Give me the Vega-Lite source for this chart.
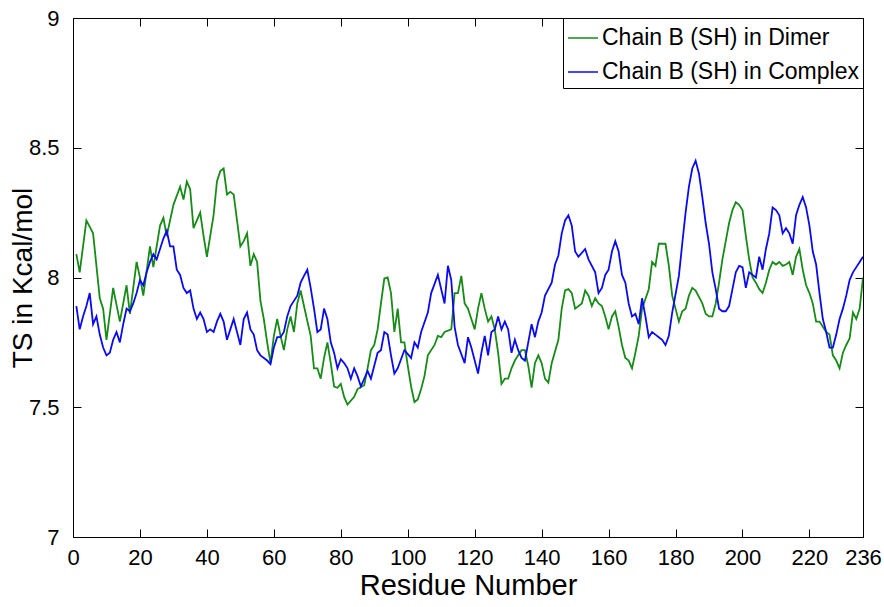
{
  "$schema": "https://vega.github.io/schema/vega-lite/v6.json",
  "width": 790,
  "height": 519,
  "autosize": "none",
  "padding": {"left": 73, "top": 18, "right": 21, "bottom": 70},
  "background": "white",
  "config": {
    "view": {"stroke": null},
    "font": "Liberation Sans",
    "axis": {"grid": false, "domainColor": "black", "tickColor": "black", "labelColor": "black", "titleColor": "black", "labelFont": "Liberation Sans", "titleFont": "Liberation Sans", "titleFontWeight": "normal"}
  },
  "datasets": {
    "dimer": [
      {"r":1,"v":8.09},{"r":2,"v":8.02},{"r":4,"v":8.22},{"r":6,"v":8.17},{"r":7,"v":8.045},{"r":8,"v":7.92},{"r":9,"v":7.88},{"r":10,"v":7.76},{"r":12,"v":7.96},{"r":14,"v":7.83},{"r":16,"v":7.97},{"r":17,"v":7.86},{"r":19,"v":8.06},{"r":20,"v":8.0},{"r":21,"v":7.93},{"r":23,"v":8.12},{"r":24,"v":8.04},{"r":26,"v":8.2},{"r":27,"v":8.23},{"r":28,"v":8.16},{"r":30,"v":8.28},{"r":32,"v":8.35},{"r":33,"v":8.3},{"r":34,"v":8.37},{"r":35,"v":8.34},{"r":36,"v":8.19},{"r":38,"v":8.25},{"r":39,"v":8.16},{"r":40,"v":8.08},{"r":41,"v":8.16},{"r":42,"v":8.24},{"r":43,"v":8.37},{"r":44,"v":8.41},{"r":45,"v":8.42},{"r":46,"v":8.32},{"r":47,"v":8.33},{"r":48,"v":8.32},{"r":50,"v":8.12},{"r":51,"v":8.14},{"r":52,"v":8.17},{"r":53,"v":8.045},{"r":54,"v":8.09},{"r":55,"v":8.06},{"r":56,"v":7.91},{"r":57,"v":7.84},{"r":58,"v":7.75},{"r":59,"v":7.67},{"r":60,"v":7.775},{"r":61,"v":7.84},{"r":62,"v":7.775},{"r":63,"v":7.72},{"r":64,"v":7.8},{"r":65,"v":7.85},{"r":66,"v":7.79},{"r":67,"v":7.9},{"r":68,"v":7.95},{"r":69,"v":7.89},{"r":71,"v":7.775},{"r":72,"v":7.65},{"r":73,"v":7.65},{"r":74,"v":7.61},{"r":75,"v":7.69},{"r":76,"v":7.75},{"r":77,"v":7.67},{"r":78,"v":7.58},{"r":79,"v":7.575},{"r":80,"v":7.59},{"r":81,"v":7.54},{"r":82,"v":7.51},{"r":84,"v":7.54},{"r":85,"v":7.57},{"r":87,"v":7.585},{"r":88,"v":7.65},{"r":89,"v":7.72},{"r":90,"v":7.74},{"r":91,"v":7.8},{"r":92,"v":7.9},{"r":93,"v":7.996},{"r":94,"v":8.0},{"r":95,"v":7.94},{"r":96,"v":7.79},{"r":97,"v":7.88},{"r":98,"v":7.75},{"r":99,"v":7.75},{"r":100,"v":7.66},{"r":101,"v":7.58},{"r":102,"v":7.52},{"r":103,"v":7.53},{"r":104,"v":7.57},{"r":105,"v":7.62},{"r":106,"v":7.7},{"r":108,"v":7.74},{"r":109,"v":7.775},{"r":110,"v":7.77},{"r":111,"v":7.79},{"r":113,"v":7.8},{"r":114,"v":7.94},{"r":115,"v":7.94},{"r":116,"v":8.006},{"r":117,"v":7.9},{"r":118,"v":7.88},{"r":119,"v":7.84},{"r":120,"v":7.8},{"r":121,"v":7.88},{"r":122,"v":7.94},{"r":123,"v":7.88},{"r":124,"v":7.83},{"r":125,"v":7.85},{"r":126,"v":7.8},{"r":127,"v":7.71},{"r":128,"v":7.59},{"r":129,"v":7.61},{"r":130,"v":7.61},{"r":131,"v":7.65},{"r":132,"v":7.68},{"r":133,"v":7.7},{"r":134,"v":7.72},{"r":135,"v":7.72},{"r":136,"v":7.66},{"r":137,"v":7.576},{"r":138,"v":7.67},{"r":139,"v":7.7},{"r":140,"v":7.67},{"r":141,"v":7.61},{"r":142,"v":7.595},{"r":143,"v":7.67},{"r":145,"v":7.76},{"r":146,"v":7.88},{"r":147,"v":7.95},{"r":148,"v":7.955},{"r":149,"v":7.94},{"r":150,"v":7.88},{"r":152,"v":7.9},{"r":153,"v":7.95},{"r":154,"v":7.93},{"r":155,"v":7.89},{"r":156,"v":7.92},{"r":157,"v":7.9},{"r":158,"v":7.89},{"r":159,"v":7.85},{"r":160,"v":7.8},{"r":161,"v":7.85},{"r":162,"v":7.87},{"r":163,"v":7.81},{"r":164,"v":7.74},{"r":165,"v":7.69},{"r":166,"v":7.68},{"r":167,"v":7.65},{"r":168,"v":7.71},{"r":169,"v":7.775},{"r":170,"v":7.88},{"r":172,"v":7.955},{"r":173,"v":8.06},{"r":174,"v":8.045},{"r":175,"v":8.13},{"r":176,"v":8.13},{"r":177,"v":8.13},{"r":178,"v":8.045},{"r":179,"v":7.93},{"r":180,"v":7.88},{"r":181,"v":7.83},{"r":182,"v":7.87},{"r":183,"v":7.88},{"r":184,"v":7.93},{"r":185,"v":7.96},{"r":186,"v":7.95},{"r":188,"v":7.9},{"r":189,"v":7.86},{"r":190,"v":7.85},{"r":191,"v":7.85},{"r":192,"v":7.9},{"r":193,"v":7.98},{"r":194,"v":8.07},{"r":195,"v":8.14},{"r":196,"v":8.21},{"r":197,"v":8.26},{"r":198,"v":8.29},{"r":199,"v":8.28},{"r":200,"v":8.26},{"r":201,"v":8.16},{"r":202,"v":8.07},{"r":203,"v":8.0},{"r":204,"v":7.98},{"r":205,"v":7.955},{"r":206,"v":7.94},{"r":207,"v":7.98},{"r":208,"v":8.03},{"r":209,"v":8.06},{"r":210,"v":8.05},{"r":211,"v":8.06},{"r":212,"v":8.045},{"r":213,"v":8.05},{"r":214,"v":8.06},{"r":215,"v":8.01},{"r":216,"v":8.08},{"r":217,"v":8.11},{"r":218,"v":8.03},{"r":219,"v":7.97},{"r":220,"v":7.94},{"r":221,"v":7.9},{"r":222,"v":7.83},{"r":223,"v":7.83},{"r":224,"v":7.81},{"r":225,"v":7.79},{"r":226,"v":7.78},{"r":227,"v":7.7},{"r":228,"v":7.68},{"r":229,"v":7.65},{"r":230,"v":7.71},{"r":231,"v":7.74},{"r":232,"v":7.765},{"r":233,"v":7.865},{"r":234,"v":7.84},{"r":235,"v":7.88},{"r":236,"v":8.0}
    ],
    "complex": [
      {"r":1,"v":7.89},{"r":2,"v":7.8},{"r":3,"v":7.85},{"r":4,"v":7.89},{"r":5,"v":7.94},{"r":6,"v":7.82},{"r":7,"v":7.85},{"r":8,"v":7.78},{"r":9,"v":7.73},{"r":10,"v":7.7},{"r":11,"v":7.71},{"r":12,"v":7.76},{"r":13,"v":7.79},{"r":14,"v":7.75},{"r":15,"v":7.82},{"r":16,"v":7.88},{"r":17,"v":7.87},{"r":18,"v":7.9},{"r":19,"v":7.94},{"r":20,"v":7.99},{"r":21,"v":7.97},{"r":22,"v":8.02},{"r":23,"v":8.06},{"r":24,"v":8.09},{"r":25,"v":8.07},{"r":26,"v":8.11},{"r":27,"v":8.15},{"r":28,"v":8.18},{"r":29,"v":8.12},{"r":30,"v":8.12},{"r":31,"v":8.03},{"r":32,"v":8.01},{"r":33,"v":7.96},{"r":34,"v":7.94},{"r":35,"v":7.95},{"r":36,"v":7.88},{"r":37,"v":7.84},{"r":38,"v":7.865},{"r":39,"v":7.84},{"r":40,"v":7.79},{"r":41,"v":7.8},{"r":42,"v":7.79},{"r":43,"v":7.83},{"r":44,"v":7.86},{"r":45,"v":7.83},{"r":46,"v":7.76},{"r":47,"v":7.8},{"r":48,"v":7.84},{"r":49,"v":7.79},{"r":50,"v":7.74},{"r":51,"v":7.84},{"r":52,"v":7.865},{"r":53,"v":7.8},{"r":54,"v":7.78},{"r":55,"v":7.72},{"r":56,"v":7.7},{"r":58,"v":7.68},{"r":59,"v":7.666},{"r":60,"v":7.73},{"r":61,"v":7.77},{"r":62,"v":7.77},{"r":63,"v":7.79},{"r":64,"v":7.85},{"r":65,"v":7.89},{"r":67,"v":7.93},{"r":68,"v":7.98},{"r":69,"v":8.006},{"r":70,"v":8.03},{"r":71,"v":7.96},{"r":72,"v":7.88},{"r":73,"v":7.79},{"r":74,"v":7.8},{"r":75,"v":7.88},{"r":76,"v":7.84},{"r":77,"v":7.75},{"r":78,"v":7.71},{"r":79,"v":7.65},{"r":80,"v":7.685},{"r":81,"v":7.67},{"r":82,"v":7.65},{"r":83,"v":7.61},{"r":84,"v":7.65},{"r":85,"v":7.62},{"r":86,"v":7.58},{"r":88,"v":7.64},{"r":89,"v":7.61},{"r":90,"v":7.66},{"r":91,"v":7.71},{"r":92,"v":7.72},{"r":93,"v":7.79},{"r":94,"v":7.78},{"r":95,"v":7.7},{"r":96,"v":7.63},{"r":97,"v":7.65},{"r":98,"v":7.685},{"r":99,"v":7.72},{"r":101,"v":7.69},{"r":102,"v":7.75},{"r":103,"v":7.73},{"r":104,"v":7.79},{"r":106,"v":7.865},{"r":107,"v":7.94},{"r":109,"v":8.01},{"r":110,"v":7.955},{"r":111,"v":7.9},{"r":112,"v":8.045},{"r":113,"v":7.99},{"r":114,"v":7.81},{"r":115,"v":7.74},{"r":117,"v":7.67},{"r":118,"v":7.77},{"r":119,"v":7.73},{"r":121,"v":7.63},{"r":122,"v":7.71},{"r":123,"v":7.775},{"r":124,"v":7.7},{"r":125,"v":7.79},{"r":126,"v":7.8},{"r":127,"v":7.85},{"r":128,"v":7.8},{"r":129,"v":7.83},{"r":130,"v":7.8},{"r":131,"v":7.71},{"r":132,"v":7.76},{"r":133,"v":7.72},{"r":134,"v":7.69},{"r":135,"v":7.68},{"r":137,"v":7.82},{"r":138,"v":7.77},{"r":139,"v":7.83},{"r":140,"v":7.865},{"r":141,"v":7.93},{"r":143,"v":7.98},{"r":144,"v":8.05},{"r":145,"v":8.085},{"r":146,"v":8.17},{"r":147,"v":8.22},{"r":148,"v":8.24},{"r":149,"v":8.2},{"r":150,"v":8.1},{"r":151,"v":8.08},{"r":153,"v":8.11},{"r":154,"v":8.07},{"r":156,"v":8.02},{"r":157,"v":7.94},{"r":158,"v":7.96},{"r":159,"v":8.01},{"r":160,"v":8.03},{"r":161,"v":8.1},{"r":162,"v":8.14},{"r":163,"v":8.1},{"r":164,"v":8.01},{"r":165,"v":7.98},{"r":166,"v":7.9},{"r":167,"v":7.85},{"r":168,"v":7.86},{"r":169,"v":7.82},{"r":170,"v":7.92},{"r":171,"v":7.85},{"r":172,"v":7.77},{"r":173,"v":7.79},{"r":174,"v":7.78},{"r":175,"v":7.77},{"r":176,"v":7.76},{"r":177,"v":7.74},{"r":178,"v":7.775},{"r":179,"v":7.865},{"r":181,"v":8.006},{"r":182,"v":8.13},{"r":183,"v":8.25},{"r":184,"v":8.35},{"r":185,"v":8.42},{"r":186,"v":8.45},{"r":187,"v":8.4},{"r":188,"v":8.31},{"r":189,"v":8.21},{"r":190,"v":8.13},{"r":191,"v":8.02},{"r":192,"v":7.955},{"r":193,"v":7.88},{"r":194,"v":7.87},{"r":195,"v":7.87},{"r":196,"v":7.89},{"r":197,"v":7.955},{"r":198,"v":8.02},{"r":199,"v":8.045},{"r":200,"v":8.04},{"r":201,"v":7.96},{"r":202,"v":8.02},{"r":203,"v":8.01},{"r":204,"v":8.0},{"r":205,"v":8.08},{"r":206,"v":8.03},{"r":207,"v":8.11},{"r":208,"v":8.17},{"r":209,"v":8.27},{"r":210,"v":8.26},{"r":211,"v":8.24},{"r":212,"v":8.17},{"r":213,"v":8.19},{"r":214,"v":8.17},{"r":215,"v":8.13},{"r":216,"v":8.24},{"r":217,"v":8.28},{"r":218,"v":8.31},{"r":219,"v":8.27},{"r":220,"v":8.2},{"r":221,"v":8.1},{"r":222,"v":8.05},{"r":223,"v":7.94},{"r":224,"v":7.84},{"r":225,"v":7.79},{"r":226,"v":7.73},{"r":227,"v":7.73},{"r":228,"v":7.78},{"r":229,"v":7.84},{"r":230,"v":7.88},{"r":231,"v":7.93},{"r":232,"v":7.99},{"r":233,"v":8.02},{"r":234,"v":8.04},{"r":235,"v":8.06},{"r":236,"v":8.08}
    ]
  },
  "layer": [
    {
      "data": {"name": "dimer"},
      "mark": {"type": "line", "strokeWidth": 1.8, "clip": true},
      "encoding": {
        "x": {"field": "r", "type": "quantitative", "scale": {"domain": [0, 236], "nice": false, "zero": false},
          "axis": {"orient": "bottom", "title": "Residue Number", "values": [0,20,40,60,80,100,120,140,160,180,200,220,236], "tickSize": -8, "labelPadding": 18, "labelFontSize": 22, "titleFontSize": 29, "titlePadding": 3, "labelFlush": false, "labelOverlap": false}},
        "y": {"field": "v", "type": "quantitative", "scale": {"domain": [7, 9], "nice": false, "zero": false},
          "axis": {"orient": "left", "title": "TS in Kcal/mol", "format": "~g", "values": [7, 7.5, 8, 8.5, 9], "tickSize": -8, "labelPadding": 22, "labelFontSize": 22, "titleFontSize": 28, "titleX": -36, "titleBaseline": "bottom", "labelFlush": false, "labelOverlap": false}},
        "color": {"datum": "Chain B (SH) in Dimer", "type": "nominal",
          "scale": {"domain": ["Chain B (SH) in Dimer", "Chain B (SH) in Complex"], "range": ["#178a17", "#0a0af0"]},
          "legend": {"title": null, "orient": "top-right", "offset": 0, "strokeColor": "black", "fillColor": "white", "padding": 4, "labelFontSize": 23, "labelFont": "Liberation Sans", "labelColor": "black", "labelLimit": 400, "symbolType": "stroke", "symbolSize": 900, "symbolStrokeWidth": 1.5, "rowPadding": 6, "labelOffset": 3}}
      }
    },
    {
      "data": {"name": "complex"},
      "mark": {"type": "line", "strokeWidth": 1.8, "clip": true},
      "encoding": {
        "x": {"field": "r", "type": "quantitative", "axis": null},
        "y": {"field": "v", "type": "quantitative", "axis": null},
        "color": {"datum": "Chain B (SH) in Complex", "type": "nominal"}
      }
    },
    {
      "data": {"name": "dimer"},
      "mark": {"type": "line", "opacity": 0},
      "encoding": {
        "x": {"field": "r", "type": "quantitative", "axis": {"orient": "top", "title": null, "labels": false, "values": [0,20,40,60,80,100,120,140,160,180,200,220,236], "tickSize": -8}},
        "y": {"field": "v", "type": "quantitative", "axis": {"orient": "right", "title": null, "labels": false, "values": [7, 7.5, 8, 8.5, 9], "tickSize": -8}}
      }
    }
  ],
  "resolve": {"axis": {"x": "independent", "y": "independent"}}
}
